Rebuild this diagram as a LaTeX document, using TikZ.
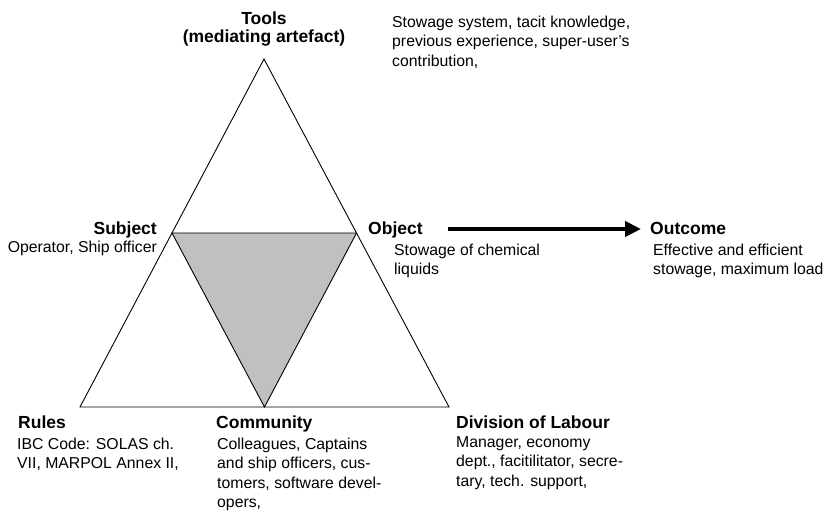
\documentclass[tikz,border=0pt]{standalone}
\usepackage{fontspec}
\setmainfont{Liberation Sans}
\usetikzlibrary{arrows.meta,calc}
\definecolor{innergray}{RGB}{192,192,192}
% multi-line nodes below are placed by the baseline of their last line
\tikzset{
  head/.style={anchor=base west, inner sep=0pt, font=\fontsize{17.5}{21}\selectfont\bfseries},
  body/.style={anchor=base west, inner sep=0pt, align=left, font=\fontsize{15.8}{19.5}\selectfont},
  edge/.style={line width=0.9pt, line join=miter},
  flow/.style={line width=4pt, -{Triangle[length=16pt,width=15pt]}}
}
\begin{document}
\begin{tikzpicture}[x=1pt,y=-1pt]
\useasboundingbox (0,0) rectangle (830,513);
% corners of the activity triangle
\coordinate (apex) at (264,59);
\coordinate (bl) at (80,407);
\coordinate (br) at (449,407);
\coordinate (ml) at ($(apex)!0.5!(bl)$);
\coordinate (mr) at ($(apex)!0.5!(br)$);
\coordinate (mb) at ($(bl)!0.5!(br)$);
% inner shaded triangle
\fill[innergray] (ml) -- (mr) -- (mb) -- cycle;
\draw[edge] (ml) -- (mr) -- (mb) -- cycle;
\draw[edge] (apex) -- (bl) -- (br) -- cycle;

% tools
\node[head, anchor=base] (tools) at (264,25) {Tools};
\node[head, anchor=base] (toolsb) at (264,43) {(mediating artefact)};
\node[body] (toolsdesc) at (392,66.5) {Stowage system, tacit knowledge,\\previous experience, super-user’s\\contribution,};

% subject
\node[head, anchor=base east] (subject) at (157,235) {Subject};
\node[body, anchor=base east] (subjectdesc) at (157,253) {Operator, Ship officer};

% object
\node[head] (object) at (368,235) {Object};
\node[body] (objectdesc) at (394,274.5) {Stowage of chemical\\liquids};

% outcome
\node[head] (outcome) at (650,235) {Outcome};
\node[body] (outcomedesc) at (653,274.5) {Effective and efficient\\stowage, maximum load};
\coordinate (arrowstart) at (448,229);
\coordinate (arrowend) at (641,229);
\draw[flow] (arrowstart) -- (arrowend);

% rules
\node[head] (rules) at (18,428) {Rules};
\node[body] (rulesdesc) at (17,468.5) {IBC Code: SOLAS ch.\\VII, MARPOL Annex II,};

% community
\node[head] (community) at (216,428) {Community};
\node[body] (communitydesc) at (217,507.5) {Colleagues, Captains\\and ship officers, cus-\\tomers, software devel-\\opers,};

% division of labour
\node[head] (division) at (456,428) {Division of Labour};
\node[body] (divisiondesc) at (456,486) {Manager, economy\\dept., facitilitator, secre-\\tary, tech. support,};
\end{tikzpicture}
\end{document}
